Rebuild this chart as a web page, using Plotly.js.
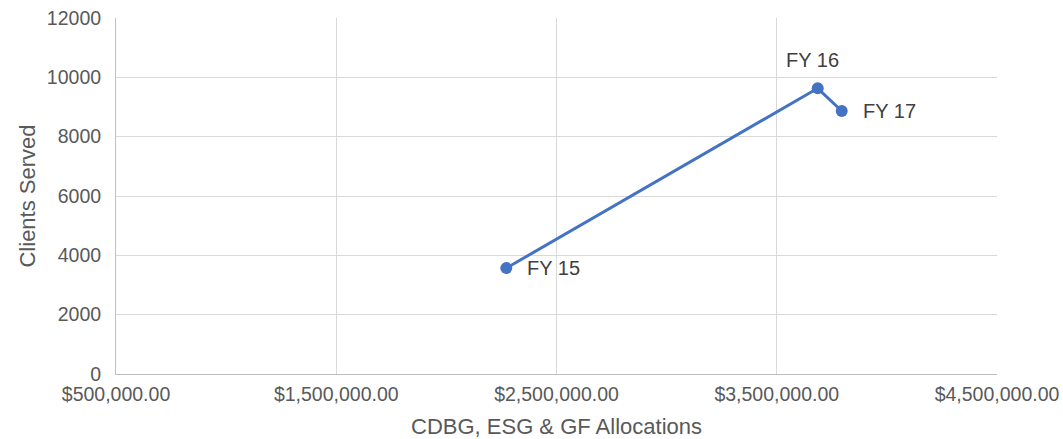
<!DOCTYPE html>
<html>
<head>
<meta charset="utf-8">
<script src="https://cdn.plot.ly/plotly-3.0.1.min.js"></script>
<style>html,body{margin:0;padding:0;background:#fff;}#chart{width:1063px;height:439px;}</style>
</head>
<body>
<div id="chart"></div>
<script>
const labels = ["FY 15", "FY 16", "FY 17"];
const allocations = [2272000, 3686000, 3795000];
const clientsServed = [3569, 9630, 8865];

const labelAnchors = ["left", "center", "left"];
const labelXShift = [19, -5, 19];
const labelYShift = [0, 28, 0];

const trace = {
  x: allocations,
  y: clientsServed,
  mode: "lines+markers",
  line: {color: "#4472C4", width: 3},
  marker: {color: "#4472C4", size: 12},
  hoverinfo: "none",
  cliponaxis: false
};

const annotations = labels.map((t, i) => ({
  x: allocations[i], y: clientsServed[i], xref: "x", yref: "y",
  text: t, showarrow: false,
  xanchor: labelAnchors[i], yanchor: "middle",
  xshift: labelXShift[i], yshift: labelYShift[i],
  font: {family: "Liberation Sans, Arial, sans-serif", size: 20, color: "#404040"}
}));

const layout = {
  width: 1063, height: 439,
  margin: {l: 116, r: 66, t: 18, b: 65},
  paper_bgcolor: "#ffffff", plot_bgcolor: "#ffffff",
  showlegend: false,
  annotations: annotations,
  font: {family: "Liberation Sans, Arial, sans-serif", color: "#595959", size: 19},
  xaxis: {
    range: [500000, 4500000], tick0: 500000, dtick: 1000000,
    tickprefix: "$", tickformat: ",.2f",
    showgrid: true, gridcolor: "#d9d9d9", gridwidth: 1,
    zeroline: false, showline: true, linecolor: "#bfbfbf", linewidth: 1,
    ticks: "", ticklen: 0, ticklabelstandoff: 3,
    tickfont: {size: 19.5, color: "#595959"},
    title: {text: "CDBG, ESG & GF Allocations", font: {size: 22, color: "#595959"}, standoff: 14},
    fixedrange: true
  },
  yaxis: {
    range: [0, 12000], dtick: 2000, tickformat: "d",
    showgrid: true, gridcolor: "#d9d9d9", gridwidth: 1,
    zeroline: false, showline: true, linecolor: "#bfbfbf", linewidth: 1,
    ticks: "", ticklabelstandoff: 10,
    tickfont: {size: 19.5, color: "#595959"},
    title: {text: "Clients Served", font: {size: 22, color: "#595959"}, standoff: 5},
    fixedrange: true
  }
};

Plotly.newPlot("chart", [trace], layout, {displayModeBar: false, staticPlot: true});
</script>
</body>
</html>
